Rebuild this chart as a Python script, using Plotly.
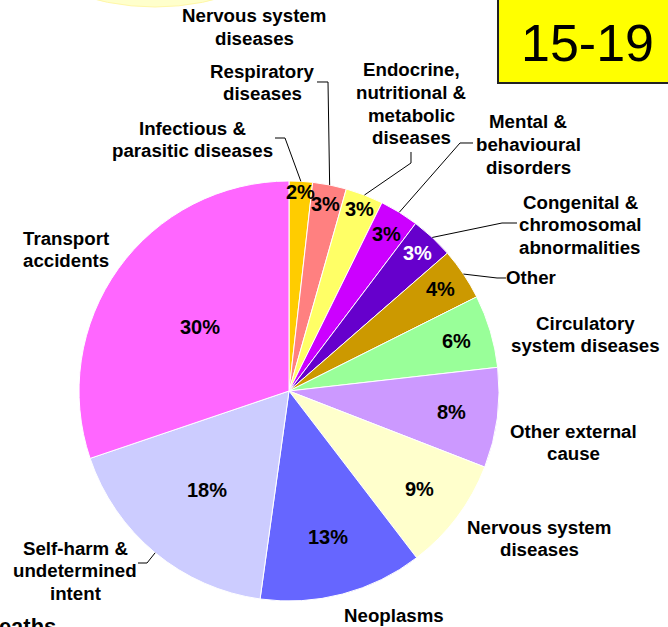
import math
import plotly.graph_objects as go

W, H = 668, 627

# ---------------- data ----------------
categories = [
    "Infectious & parasitic diseases",
    "Respiratory diseases",
    "Endocrine, nutritional & metabolic diseases",
    "Mental & behavioural disorders",
    "Congenital & chromosomal abnormalities",
    "Other",
    "Circulatory system diseases",
    "Other external cause",
    "Nervous system diseases",
    "Neoplasms",
    "Self-harm & undetermined intent",
    "Transport accidents",
]
values = [1.8, 2.6, 2.9, 3.0, 3.3, 4.0, 5.6, 7.7, 8.7, 12.6, 17.6, 30.2]
label_lines = [
    ["Infectious &", "parasitic diseases"],
    ["Respiratory", "diseases"],
    ["Endocrine,", "nutritional &", "metabolic", "diseases"],
    ["Mental &", "behavioural", "disorders"],
    ["Congenital &", "chromosomal", "abnormalities"],
    ["Other"],
    ["Circulatory", "system diseases"],
    ["Other external", "cause"],
    ["Nervous system", "diseases"],
    ["Neoplasms"],
    ["Self-harm &", "undetermined", "intent"],
    ["Transport", "accidents"],
]
age_group = "15-19"

# ---------------- styles / layout ----------------
colors = ["#FFCC00", "#FF8080", "#FFFF66", "#CC00FF", "#6600CC", "#CC9900",
          "#99FF99", "#CC99FF", "#FFFFCC", "#6666FF", "#CCCCFF", "#FF66FF"]
pct_colors = ["black"] * 4 + ["white"] + ["black"] * 7
pct_radius = [0.95, 0.91, 0.93, 0.88, 0.90, 0.87, 0.83, 0.78, 0.78, 0.72, 0.61, 0.52]
# label position: centre x and y of first line (pixels)
label_pos = [(192, 128), (262, 71), (411, 70), (528, 122), (580, 202), (531, 278),
             (585, 323), (573, 431), (539, 527), (394, 615), (75, 548), (66, 238)]
# leader line points (label side), None = no leader line
leader_pts = [
    [(275, 138), (285, 138)],
    [(317, 82), (328, 82)],
    [(411, 152), (411, 163)],
    [(473, 143), (460, 143)],
    [(517, 223), (502, 223)],
    [(506, 278), (497, 278)],
    None, None, None, None,
    [(138, 563), (147, 563)],
    None,
]
LINE_GAP = 22.5
FONT = "Liberation Sans, Arial, sans-serif"
LABEL_SIZE = 18.7

CX, CY, R = 289, 391, 210


def px(x):
    return x / W


def py(y):
    return 1 - y / H


fig = go.Figure()
fig.add_trace(go.Pie(
    labels=categories, values=values, sort=False, direction="clockwise", rotation=0,
    marker=dict(colors=colors, line=dict(color="white", width=1)),
    textinfo="none", hoverinfo="label+percent", showlegend=False,
    domain=dict(x=[px(CX - R), px(CX + R)], y=[py(CY + R), py(CY - R)]),
))

annotations = []
shapes = []


def add_text(x, y, text, size, color="black", xanchor="center"):
    annotations.append(dict(x=px(x), y=py(y), xref="paper", yref="paper", text=text,
                            showarrow=False, xanchor=xanchor, yanchor="middle",
                            font=dict(family=FONT, size=size, color=color)))


# partially visible neighbouring chart (top)
shapes.append(dict(type="circle", xref="paper", yref="paper",
                   x0=px(155 - 244), x1=px(155 + 244), y0=py(7), y1=py(7 - 488),
                   fillcolor="#FFFFCC", line=dict(color="#FFF7A8", width=1), layer="below"))
for i, t in enumerate(["Nervous system", "diseases"]):
    add_text(254, 16 + i * LINE_GAP, "<b>%s</b>" % t, LABEL_SIZE)

total = sum(values)
cum = 0.0
for i, v in enumerate(values):
    mid = (cum + v / 2) / total * 2 * math.pi
    cum += v
    pct = round(v / total * 100)
    rr = R * pct_radius[i]
    tx, ty = CX + rr * math.sin(mid), CY - rr * math.cos(mid)
    add_text(tx, ty, "<b>%d%%</b>" % pct, 20, pct_colors[i])
    lx, ly = label_pos[i]
    for j, t in enumerate(label_lines[i]):
        add_text(lx, ly + j * LINE_GAP, "<b>%s</b>" % t, LABEL_SIZE)
    if leader_pts[i]:
        ex, ey = CX + R * math.sin(mid), CY - R * math.cos(mid)
        pts = leader_pts[i] + [(ex, ey)]
        path = "M " + " L ".join("%f,%f" % (px(a), py(b)) for a, b in pts)
        shapes.append(dict(type="path", xref="paper", yref="paper", path=path,
                           line=dict(color="black", width=1)))

# age group box
shapes.append(dict(type="rect", xref="paper", yref="paper",
                   x0=px(498), x1=px(700), y0=py(83), y1=py(-20),
                   fillcolor="#FFFF00", line=dict(color="#222222", width=2)))
add_text(587, 43, age_group, 52)

# cut-off title text at bottom-left
add_text(58, 626, "<b>Deaths</b>", 22, xanchor="right")

fig.update_layout(
    width=W, height=H, margin=dict(l=0, r=0, t=0, b=0),
    paper_bgcolor="white", plot_bgcolor="white",
    annotations=annotations, shapes=shapes,
)
fig.write_html("out.html", config={"displayModeBar": False},
               post_script="document.body.style.margin='0';document.body.style.overflow='hidden';")
